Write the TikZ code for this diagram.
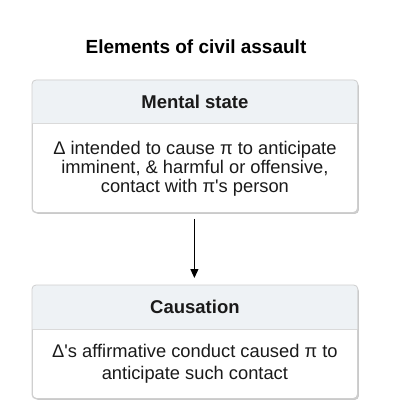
\documentclass[tikz,border=0pt]{standalone}
\usepackage{fontspec}
\setmainfont{Liberation Sans}
\usetikzlibrary{arrows.meta,shadows}
\definecolor{boxgray}{HTML}{CFCFCF}
\definecolor{headfill}{HTML}{EEF2F5}
\definecolor{sepgray}{HTML}{DADADA}
\definecolor{txt}{HTML}{1A1A1A}
\tikzset{
  box/.style={draw=boxgray, line width=0.8pt, rounded corners=4pt, fill=white, anchor=north west,
    drop shadow={shadow xshift=1.5pt, shadow yshift=-1.5pt, opacity=0.35, fill=black!60}},
  headtxt/.style={font=\fontsize{18.5}{20}\selectfont\bfseries, text=txt},
  bodytxt/.style={font=\fontsize{18.3}{19}\selectfont, text=txt, align=center},
  conn/.style={draw=black, line width=1.1pt, -{Triangle[length=9pt,width=8pt]}}
}
\begin{document}
\begin{tikzpicture}
\useasboundingbox (0,0) rectangle (406pt,-406pt);
\node[font=\fontsize{19}{22}\selectfont\bfseries, text=black] (title) at (196pt,-47pt) {Elements of civil assault};
% box 1
\node[box, minimum width=325pt, minimum height=132pt] (m) at (32pt,-80pt) {};
\begin{scope}
\clip[rounded corners=4pt] (m.north west) rectangle (m.south east);
\fill[headfill] (m.north west) rectangle ([yshift=-43pt]m.north east);
\end{scope}
\draw[sepgray, line width=0.8pt] ([yshift=-43pt]m.north west) -- ([yshift=-43pt]m.north east);
\draw[boxgray, line width=0.8pt, rounded corners=4pt] (m.north west) rectangle (m.south east);
\node[headtxt] (mh) at ([yshift=-22pt]m.north) {Mental state};
\node[bodytxt] (mb) at ([yshift=-89pt]m.north) {Δ intended to cause π to anticipate\\imminent, \& harmful or offensive,\\contact with π\textquotesingle s person};
% box 2
\node[box, minimum width=325pt, minimum height=113pt] (c) at (32pt,-285pt) {};
\begin{scope}
\clip[rounded corners=4pt] (c.north west) rectangle (c.south east);
\fill[headfill] (c.north west) rectangle ([yshift=-44pt]c.north east);
\end{scope}
\draw[sepgray, line width=0.8pt] ([yshift=-44pt]c.north west) -- ([yshift=-44pt]c.north east);
\draw[boxgray, line width=0.8pt, rounded corners=4pt] (c.north west) rectangle (c.south east);
\node[headtxt] (ch) at ([yshift=-22pt]c.north) {Causation};
\node[bodytxt, font=\fontsize{18.3}{22}\selectfont] (cb) at ([yshift=-79pt]c.north) {Δ\textquotesingle s affirmative conduct caused π to\\anticipate such contact};
% connector
\draw[conn, shorten <=6pt, shorten >=7pt] ([xshift=-0.5pt]m.south) -- ([xshift=-0.5pt]c.north);
\end{tikzpicture}
\end{document}
